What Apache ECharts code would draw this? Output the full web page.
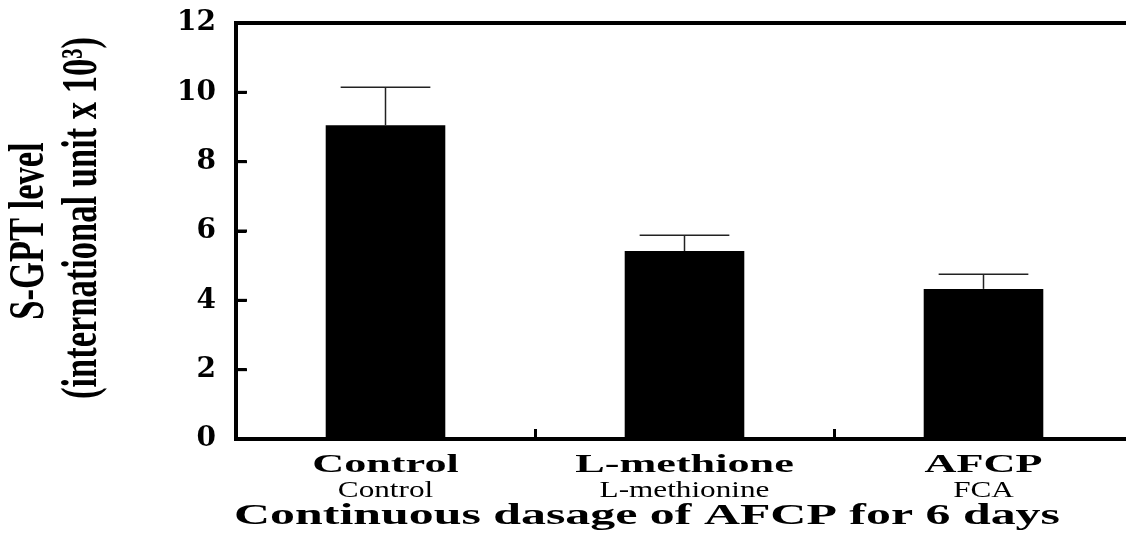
<!DOCTYPE html>
<html>
<head>
<meta charset="utf-8">
<script src="https://cdn.jsdelivr.net/npm/echarts@6/dist/echarts.min.js"></script>
<style>
  html, body { margin: 0; padding: 0; background: #fff; }
  #chart { width: 1126px; height: 536px; }
</style>
</head>
<body>
<div id="chart"></div>
<script>
// Treatment groups (main label and sub label under each bar)
const categories = ['Control', 'L-methione', 'AFCP'];
const subLabels = ['Control', 'L-methionine', 'FCA'];
// Mean S-GPT level (international unit x 10^3) and its error
const means = [9.05, 5.42, 4.33];
const errors = [1.1, 0.46, 0.42];
// Value axis range and tick values
const yMin = 0;
const yMax = 12;
const yStep = 2;
const yTicks = [0, 2, 4, 6, 8, 10, 12];

const yTitleLines = ['S-GPT level', '(international unit x 10\u00B3)'];
const xTitle = 'Continuous dasage of AFCP for 6 days';

const chart = echarts.init(document.getElementById('chart'), null, { renderer: 'canvas' });

const serifBold = '"Liberation Serif", "Times New Roman", serif';
const gridLeft = 236;

const option = {
  animation: false,
  backgroundColor: '#fff',
  grid: {
    left: gridLeft,
    top: 23,
    width: 897,
    height: 416,
    outerBoundsMode: 'none',
    containLabel: false,
    show: true,
    borderColor: '#000',
    borderWidth: 4
  },
  xAxis: {
    type: 'category',
    data: categories,
    boundaryGap: true,
    z: 5,
    axisLine: { show: true, lineStyle: { color: '#000', width: 4 } },
    axisTick: { show: true, inside: true, alignWithLabel: false, interval: 0, length: 10, lineStyle: { color: '#000', width: 3 } },
    axisLabel: { show: false },
    splitLine: { show: false }
  },
  yAxis: {
    type: 'value',
    min: yMin,
    max: yMax,
    interval: yStep,
    z: 5,
    axisLine: { show: true, lineStyle: { color: '#000', width: 4 } },
    axisTick: { show: true, inside: true, length: 10, lineStyle: { color: '#000', width: 3 } },
    axisLabel: {
      margin: 20,
      color: '#000',
      fontFamily: '"DejaVu Serif", serif',
      fontWeight: 'bold',
      fontSize: 28
    },
    splitLine: { show: false }
  },
  graphic: [
    {
      type: 'text',
      x: 30, y: 231,
      rotation: Math.PI / 2,
      scaleX: 0.69,
      style: {
        text: yTitleLines[0],
        font: 'bold 50px ' + serifBold,
        fill: '#000',
        align: 'center',
        verticalAlign: 'middle'
      }
    },
    {
      type: 'text',
      x: 83, y: 218,
      rotation: Math.PI / 2,
      scaleX: 0.69,
      style: {
        text: yTitleLines[1],
        font: 'bold 50px ' + serifBold,
        fill: '#000',
        align: 'center',
        verticalAlign: 'middle'
      }
    },
    {
      type: 'text',
      x: 647, y: 517,
      scaleX: 1.72,
      style: {
        text: xTitle,
        font: 'bold 29px ' + serifBold,
        fill: '#000',
        align: 'center',
        verticalAlign: 'middle'
      }
    }
  ],
  series: [
    {
      name: 'S-GPT',
      type: 'bar',
      data: means,
      barWidth: '40%',
      itemStyle: { color: '#000' },
      z: 2
    },
    {
      // error bars: stem from the bar top to mean + error, with a cap
      type: 'custom',
      data: means.map((m, i) => [i, m, m + errors[i]]),
      z: 3,
      renderItem: function (params, api) {
        const i = api.value(0);
        const base = api.coord([i, api.value(1)]);
        const top = api.coord([i, api.value(2)]);
        const half = api.size([1, 0])[0] * 0.15;
        const st = { stroke: '#222', lineWidth: 1.5 };
        return {
          type: 'group',
          children: [
            { type: 'line', shape: { x1: base[0], y1: base[1], x2: top[0], y2: top[1] }, style: st },
            { type: 'line', shape: { x1: top[0] - half, y1: top[1], x2: top[0] + half, y2: top[1] }, style: st }
          ]
        };
      }
    },
    {
      // two-line category labels under each bar
      type: 'custom',
      data: categories.map((c, i) => [i, 0]),
      clip: false,
      silent: true,
      z: 4,
      renderItem: function (params, api) {
        const i = api.value(0);
        const p = api.coord([i, 0]);
        return {
          type: 'group',
          children: [
            {
              type: 'text',
              x: p[0], y: p[1] + 26,
              scaleX: 1.7,
              style: {
                text: categories[i],
                font: 'bold 26px ' + serifBold,
                fill: '#000',
                align: 'center',
                verticalAlign: 'middle'
              }
            },
            {
              type: 'text',
              x: p[0], y: p[1] + 52,
              scaleX: 1.3,
              style: {
                text: subLabels[i],
                font: '24px ' + serifBold,
                fill: '#000',
                align: 'center',
                verticalAlign: 'middle'
              }
            }
          ]
        };
      }
    }
  ]
};

chart.setOption(option);

// Inward tick marks on the value axis, placed through the axis scale
const tickMarks = yTicks.map(function (v, k) {
  const y = chart.convertToPixel({ yAxisIndex: 0 }, v);
  return {
    type: 'line',
    id: 'ytick' + k,
    z: 20,
    shape: { x1: gridLeft, y1: y, x2: gridLeft + 11, y2: y },
    style: { stroke: '#000', lineWidth: 3 }
  };
});
chart.setOption({ graphic: tickMarks });
</script>
</body>
</html>
